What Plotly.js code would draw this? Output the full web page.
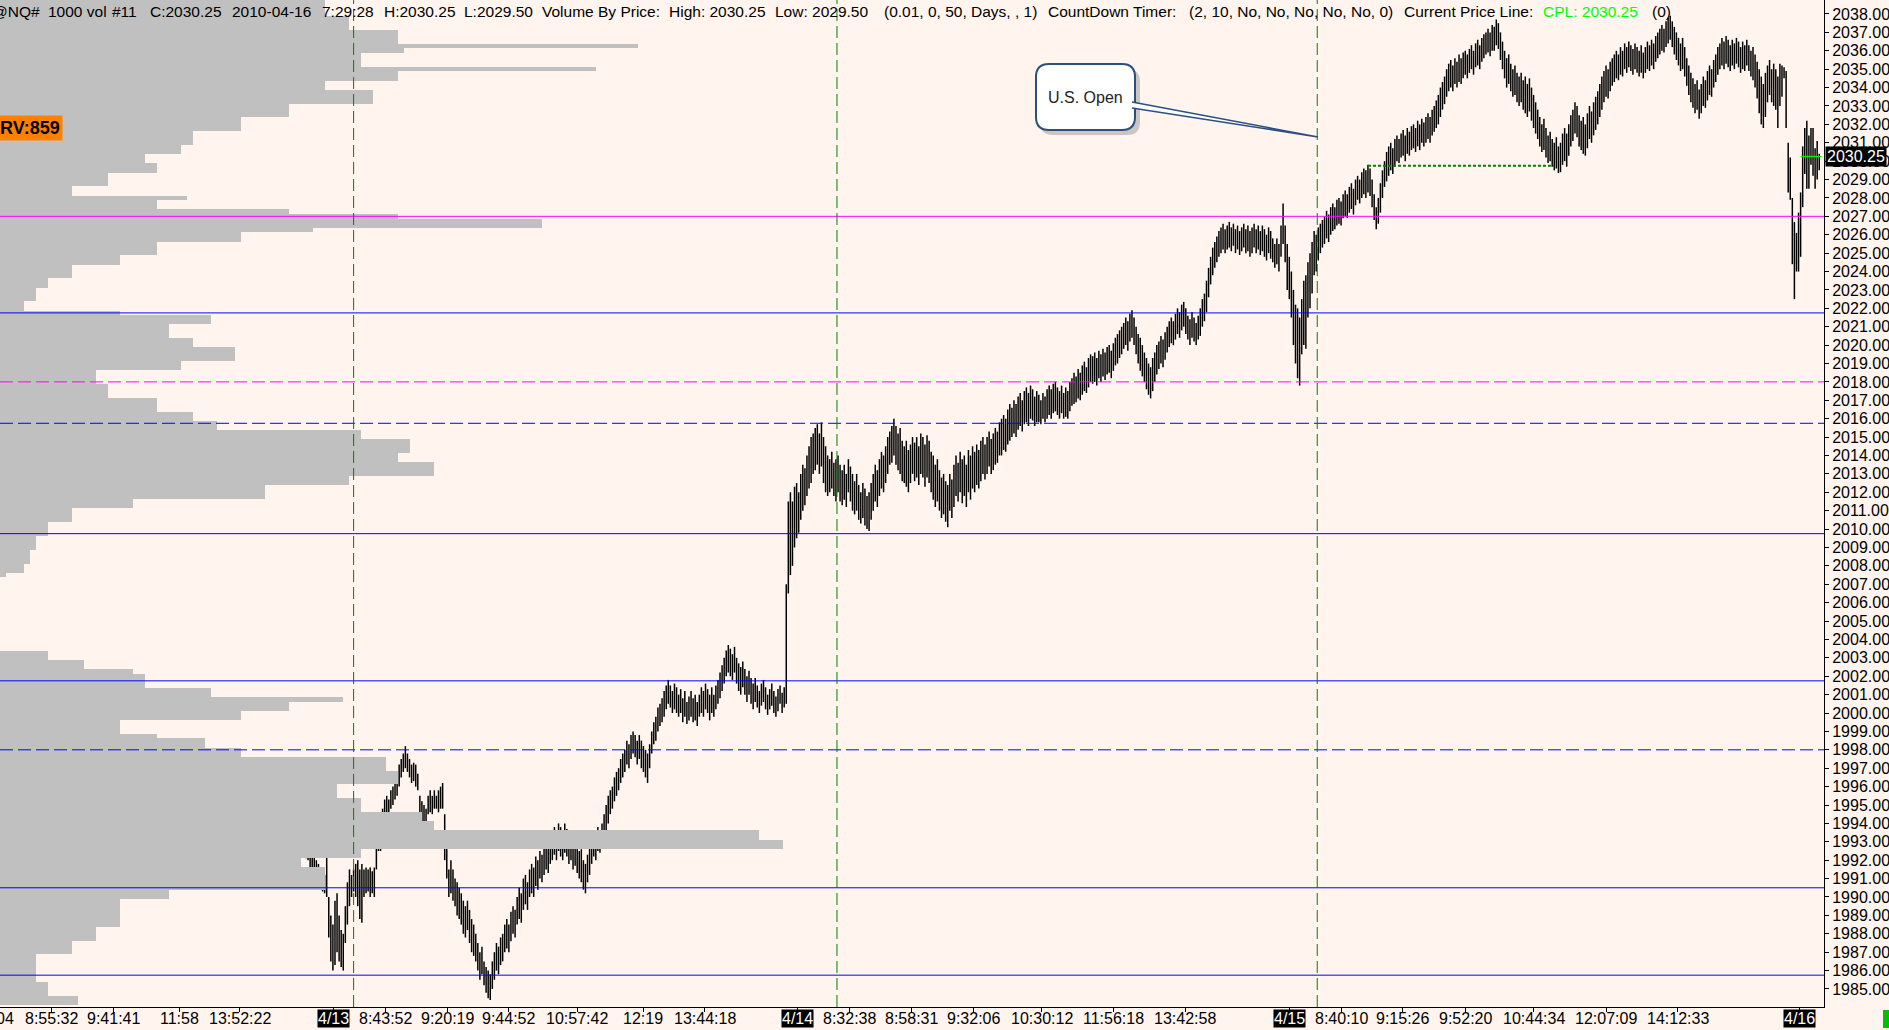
<!DOCTYPE html>
<html><head><meta charset="utf-8">
<script src="https://cdn.plot.ly/plotly-3.0.1.min.js"></script>
<style>
html,body{margin:0;padding:0;background:#fff5ee;overflow:hidden;}
#chart{width:1889px;height:1030px;}
</style></head><body><div id="chart"></div>
<script>
// ---- price bars (1000-volume bars): high and low of each bar ----
const barHigh = [
1992.5,1993.5,1993.8,1995.3,1995.0,1994.8,1994.5,1995.5,1996.2,1996.5,
1996.8,1997.2,1997.5,1997.5,1997.0,1996.2,1995.5,1995.3,1995.3,1995.0,
1994.0,1993.2,1992.2,1992.0,1991.5,1991.0,1990.5,1989.8,1989.6,1989.5,
1989.0,1989.5,1990.5,1991.0,1992.5,1993.5,1993.5,1993.5,1994.5,1993.8,
1993.2,1992.5,1991.8,1991.5,1992.5,1992.8,1993.5,1994.2,1993.8,1993.3,
1992.8,1992.0,1991.5,1993.0,1993.6,1994.3,1995.0,1995.0,1995.0,1994.8,
1995.2,1995.3,1994.3,1994.0,1993.3,1992.6,1992.0,1992.3,1992.5,1993.0,
1993.5,1993.8,1993.5,1993.3,1993.6,1993.2,1993.8,1993.9,1993.5,1993.4,
1993.8,1993.7,1993.6,1993.8,1994.0,1995.2,1995.5,1996.0,1996.5,1996.8,
1997.0,1997.2,1997.5,1997.8,1997.6,1997.9,1998.0,1997.8,1998.1,1998.0,
1997.5,1996.0,1996.0,1996.0,1996.0,1996.0,1995.8,1996.0,1996.3,1996.5,
1996.0,1996.3,1996.0,1996.8,1997.0,1997.2,1997.5,1997.3,1997.2,1997.0,
1997.0,1996.8,1996.5,1995.8,1995.5,1994.2,1993.7,1993.8,1993.8,1993.6,
1993.8,1993.6,1993.8,1993.2,1992.8,1992.5,1992.2,1991.8,1993.2,1993.6,
1993.8,1993.6,1993.2,1993.0,1992.8,1993.0,1992.8,1992.7,1992.9,1992.5,
1992.3,1992.2,1992.0,1991.8,1991.3,1991.5,1991.2,1992.6,1990.0,1989.0,
1988.5,1989.8,1990.2,1989.0,1988.2,1988.0,1989.5,1990.8,1991.5,1991.2,
1991.5,1991.8,1992.0,1991.5,1991.8,1991.5,1991.6,1991.5,1991.6,1991.4,
1991.6,1993.0,1993.5,1994.0,1994.8,1995.3,1995.5,1995.3,1995.8,1996.0,
1996.5,1996.8,1997.2,1997.5,1997.8,1998.2,1997.8,1997.5,1997.2,1997.3,
1997.2,1996.7,1995.5,1995.2,1995.0,1994.8,1995.5,1995.8,1995.5,1995.8,
1995.5,1995.8,1996.0,1996.2,1994.5,1993.0,1991.5,
1992.0,1991.5,1991.0,1990.8,1990.5,1990.2,1989.8,1989.5,1989.8,1989.3,
1988.8,1988.5,1988.0,1987.5,1987.0,1987.3,1986.5,1986.2,1986.0,1985.8,
1986.5,1987.0,1987.5,1987.3,1987.8,1988.0,1988.5,1988.8,1988.5,1989.2,
1989.5,1989.3,1990.0,1990.5,1990.2,1991.0,1991.2,1990.8,1991.5,1991.8,
1991.6,1992.2,1992.0,1992.5,1992.3,1992.8,1993.0,1992.8,1993.3,1993.6,
1993.8,1993.5,1994.0,1993.8,1993.5,1994.0,1993.7,1993.2,1993.4,1993.0,
1993.2,1992.8,1992.5,1992.6,1992.0,1991.8,1992.3,1992.8,1993.2,1993.5,
1993.4,1993.8,1993.6,1994.0,1994.5,1995.0,1995.5,1995.8,1996.0,1996.5,
1996.8,1997.0,1997.5,1997.8,1998.0,1998.5,1998.3,1998.8,1999.0,1998.8,
1998.5,1998.8,1998.5,1998.2,1998.0,1997.8,1998.3,1999.0,1999.5,1999.8,
2000.3,2000.5,2000.8,2001.2,2001.5,2001.8,2001.5,2001.2,2001.6,2001.4,
2001.0,2001.3,2000.8,2001.2,2000.6,2000.9,2001.2,2000.8,2001.0,2000.6,
2001.0,2001.4,2001.2,2001.6,2001.3,2001.0,2001.4,2001.0,2001.5,2001.8,
2002.2,2002.6,2003.0,2003.4,2003.7,2003.5,2003.2,2003.6,2003.0,2002.7,
2002.5,2002.8,2002.4,2002.0,2002.3,2001.9,2001.6,2001.9,2001.5,2001.2,
2001.6,2001.8,2001.4,2001.0,2001.3,2001.6,2001.2,2000.9,2001.3,2001.5,
2001.1,2001.4,2007.0,2011.5,2012.0,2011.5,2012.3,2012.5,2012.0,2013.0,
2013.5,2013.3,2014.0,2014.5,2015.0,2015.2,2015.5,2015.7,2015.2,2015.8,
2015.0,2014.5,2014.0,2013.8,2014.2,2013.6,2013.8,2014.0,2013.5,2013.2,
2013.5,2013.0,2013.8,2013.4,2013.0,2012.6,2013.0,2012.4,2012.0,2012.5,
2012.2,2011.8,2012.0,2012.5,2013.0,2013.5,2013.2,2013.8,2014.2,2014.0,
2014.5,2015.0,2015.3,2015.6,2016.0,2015.6,2015.2,2015.5,2014.8,2014.5,
2014.8,2014.3,2014.6,2015.0,2014.7,2015.0,2014.5,2015.2,2015.0,2014.6,
2015.1,2014.8,2014.2,2014.0,2013.5,2013.8,2013.2,2012.8,2013.0,2012.6,
2012.4,2013.0,2012.7,2013.5,2014.0,2013.6,2014.2,2013.8,2014.0,2013.5,
2014.3,2014.0,2014.5,2014.2,2014.6,2014.3,2014.8,2015.0,2014.6,2015.0,
2015.3,2014.9,2015.2,2015.5,2015.3,2015.8,2016.0,2016.2,2016.0,2016.5,
2016.8,2016.6,2017.0,2016.8,2017.2,2017.4,2017.0,2017.5,2017.7,2017.4,
2017.8,2017.6,2017.2,2017.5,2017.3,2017.0,2017.4,2017.2,2017.6,2017.8,
2017.6,2017.9,2018.0,2017.7,2017.5,2017.8,2017.4,2017.7,2017.5,2018.0,
2018.2,2018.5,2018.3,2018.7,2018.5,2018.9,2019.1,2018.8,2019.3,2019.5,
2019.4,2019.6,2019.3,2019.7,2019.5,2019.8,2019.6,2019.9,2020.0,2019.7,
2020.1,2020.4,2020.6,2020.8,2021.0,2021.2,2021.5,2021.3,2021.7,2021.9,
2021.5,2021.0,2020.6,2020.4,2020.0,2019.6,2019.3,2019.0,2018.8,2019.3,
2019.6,2020.0,2020.2,2020.5,2020.3,2020.7,2021.0,2021.3,2021.5,2021.3,
2021.7,2022.0,2021.8,2022.2,2022.35,2022.0,2021.6,2021.4,2021.8,2021.5,
2021.2,2021.6,2022.0,2022.5,2022.8,2023.5,2024.2,2024.8,2025.3,2025.6,
2025.9,2026.2,2026.4,2026.6,2026.3,2026.5,2026.7,2026.4,2026.6,2026.3,
2026.5,2026.2,2026.4,2026.6,2026.3,2026.5,2026.2,2026.4,2026.6,2026.3,
2026.5,2026.2,2026.5,2026.3,2026.0,2026.4,2026.2,2025.8,2025.5,2025.8,
2025.5,2026.5,2027.7,2026.5,2025.5,2024.8,2024.0,2023.0,2022.2,2022.0,
2021.5,2022.5,2023.5,2023.8,2024.5,2025.0,2025.6,2026.2,2026.0,2026.4,
2026.6,2026.8,2027.0,2027.3,2027.1,2027.5,2027.7,2027.5,2027.9,2028.0,
2027.8,2028.2,2028.4,2028.2,2028.6,2028.8,2028.5,2029.0,2029.2,2029.0,
2029.4,2029.6,2029.5,2029.8,2029.6,2029.0,2028.2,2027.5,2028.0,2028.8,
2029.5,2030.0,2030.5,2030.8,2031.0,2030.7,2031.2,2031.4,2031.2,2031.5,
2031.7,2031.4,2031.8,2031.6,2031.9,2032.0,2031.8,2032.2,2032.0,2032.3,
2032.1,2032.4,2032.6,2032.4,2032.8,2033.0,2033.3,2033.6,2034.0,2034.3,
2034.6,2035.0,2035.3,2035.5,2035.2,2035.6,2035.4,2035.8,2035.6,2035.9,
2036.0,2035.8,2036.1,2036.3,2036.0,2036.4,2036.6,2036.3,2036.7,2036.9,
2037.0,2037.2,2037.0,2037.4,2037.3,2037.7,2037.5,2037.0,2036.5,2036.0,
2035.6,2035.8,2035.3,2035.0,2035.2,2034.8,2034.6,2034.8,2034.4,2034.6,
2034.2,2034.5,2034.0,2033.6,2033.2,2032.8,2032.4,2032.0,2032.3,2031.8,
2031.4,2031.6,2031.2,2031.0,2031.3,2030.8,2031.0,2031.5,2031.8,2031.5,
2032.0,2032.5,2032.8,2033.2,2033.0,2032.5,2032.2,2032.4,2032.0,2032.6,
2033.0,2032.7,2033.2,2033.5,2033.8,2034.2,2034.6,2034.9,2035.2,2035.0,
2035.4,2035.6,2035.8,2036.0,2035.8,2036.2,2036.0,2036.4,2036.2,2036.5,
2036.3,2036.1,2036.4,2036.2,2036.0,2036.3,2035.9,2036.2,2036.5,2036.3,
2036.6,2036.4,2036.8,2037.0,2037.2,2037.4,2037.2,2037.6,2037.8,2037.9,
2037.6,2037.3,2037.0,2036.7,2036.4,2036.7,2036.2,2035.6,2035.2,2034.8,
2034.5,2034.2,2034.4,2033.9,2034.2,2034.6,2034.4,2034.9,2035.2,2035.0,
2035.5,2035.8,2036.2,2036.4,2036.7,2036.5,2036.8,2036.6,2036.3,2036.6,
2036.4,2036.7,2036.5,2036.2,2036.5,2036.3,2036.6,2036.3,2036.0,2036.2,
2035.8,2035.4,2035.0,2034.6,2034.2,2034.8,2035.2,2035.5,2035.0,2035.3,
2035.0,2034.6,2035.3,2035.2,2035.1,2034.9,2031.0,2030.2,2028.0,2026.7,
2026.1,2027.2,2028.3,2030.8,2031.8,2032.2,2031.4,2031.8,2031.8,2030.7,
2031.1,2030.4
];
const barLow = [
1990.5,1991.5,1992.0,1993.5,1993.8,1993.3,1993.0,1994.0,1994.5,1995.0,
1995.5,1995.8,1996.0,1996.2,1995.8,1995.5,1994.8,1994.5,1994.3,1994.0,
1993.0,1991.5,1991.2,1990.8,1990.6,1990.2,1989.8,1988.8,1988.5,1988.3,
1987.8,1988.5,1989.5,1989.8,1991.3,1992.0,1991.8,1992.0,1992.6,1992.2,
1991.5,1991.0,1989.75,1990.6,1991.0,1990.6,1991.8,1992.5,1992.0,1991.5,
1991.2,1990.7,1990.2,1991.5,1992.2,1993.0,1993.5,1993.8,1993.6,1993.5,
1994.0,1994.2,1993.2,1992.8,1991.7,1991.0,1990.9,1991.3,1991.0,1991.5,
1992.0,1992.4,1992.2,1991.8,1992.2,1992.0,1992.5,1992.5,1992.0,1992.2,
1992.8,1992.5,1992.6,1992.8,1992.8,1993.6,1994.2,1994.5,1995.5,1995.3,
1995.8,1996.0,1996.2,1996.5,1996.5,1996.8,1997.0,1996.8,1997.0,1996.5,
1996.2,1995.0,1994.8,1994.4,1994.6,1994.4,1994.5,1994.6,1995.0,1995.3,
1994.8,1995.5,1994.8,1995.5,1995.8,1996.0,1996.0,1995.5,1995.8,1995.5,
1995.3,1995.0,1994.8,1994.5,1994.4,1993.2,1992.6,1992.5,1992.4,1992.4,
1992.6,1992.6,1992.5,1992.0,1991.8,1991.5,1991.0,1991.0,1992.0,1992.2,
1992.5,1992.5,1992.2,1992.2,1992.2,1992.2,1992.2,1992.1,1992.0,1991.5,
1991.5,1991.2,1990.8,1990.8,1990.6,1990.3,1990.2,1990.0,1987.8,1986.5,
1986.0,1986.3,1987.0,1986.5,1986.2,1986.0,1987.5,1988.5,1989.5,1990.0,
1990.3,1990.0,1989.5,1988.8,1988.6,1990.0,1990.2,1990.3,1990.0,1990.2,
1990.0,1991.5,1992.5,1992.5,1993.5,1994.2,1994.3,1994.5,1994.8,1995.0,
1995.3,1995.5,1996.0,1996.5,1996.8,1997.0,1996.8,1996.5,1996.2,1996.3,
1996.0,1995.8,1994.5,1994.0,1993.5,1993.0,1994.5,1994.6,1994.5,1994.8,
1994.8,1994.6,1994.8,1994.8,1992.0,1991.0,1990.0,
1990.2,1989.8,1989.5,1989.0,1988.8,1988.5,1988.0,1987.8,1988.2,1987.5,
1987.0,1986.8,1986.5,1986.0,1985.5,1985.8,1985.2,1984.8,1984.5,1984.4,
1985.0,1985.5,1986.0,1985.8,1986.3,1986.5,1987.0,1987.2,1987.0,1987.6,
1988.0,1987.8,1988.5,1988.8,1988.6,1989.3,1989.6,1989.3,1990.0,1990.2,
1990.0,1990.6,1990.4,1991.0,1990.8,1991.2,1991.5,1991.3,1991.8,1992.0,
1992.3,1992.0,1992.5,1992.2,1992.0,1992.4,1992.2,1991.8,1992.0,1991.5,
1991.7,1991.3,1991.0,1990.8,1990.4,1990.2,1990.8,1991.2,1991.8,1992.2,
1992.0,1992.5,1992.4,1992.8,1993.0,1993.5,1994.0,1994.5,1994.8,1995.2,
1995.5,1995.8,1996.2,1996.5,1996.8,1997.2,1997.0,1997.5,1997.8,1997.6,
1997.2,1997.5,1997.0,1996.8,1996.5,1996.2,1997.0,1997.8,1998.3,1998.5,
1999.0,1999.3,1999.5,1999.8,2000.2,2000.5,2000.3,2000.0,2000.2,2000.0,
1999.8,2000.0,1999.5,1999.8,1999.4,1999.6,1999.8,1999.5,1999.6,1999.3,
1999.8,2000.0,1999.8,2000.2,2000.0,1999.6,2000.0,1999.8,2000.2,2000.5,
2000.8,2001.2,2001.6,2002.0,2002.2,2002.0,2001.8,2002.2,2001.6,2001.2,
2001.0,2001.4,2001.0,2000.6,2001.0,2000.5,2000.2,2000.6,2000.3,2000.0,
2000.4,2000.6,2000.2,1999.9,2000.2,2000.4,2000.0,1999.8,2000.1,2000.5,
2000.0,2000.3,2000.5,2006.5,2007.5,2008.0,2009.0,2009.5,2009.8,2010.5,
2011.0,2011.3,2011.8,2012.2,2012.5,2013.0,2013.2,2013.5,2013.0,2013.4,
2012.5,2012.0,2011.8,2012.0,2012.2,2011.8,2011.5,2012.0,2011.5,2011.3,
2011.6,2011.2,2012.0,2011.5,2011.0,2010.8,2011.0,2010.5,2010.3,2010.6,
2010.2,2010.0,2009.9,2010.5,2011.0,2011.5,2011.2,2011.8,2012.2,2012.0,
2012.5,2013.0,2013.5,2013.6,2014.0,2013.5,2013.2,2013.0,2012.6,2012.5,
2012.3,2012.0,2012.5,2013.0,2012.6,2012.8,2012.4,2013.0,2012.8,2012.3,
2012.8,2012.5,2012.0,2011.6,2011.2,2011.5,2011.0,2010.6,2010.8,2010.4,
2010.1,2011.0,2010.6,2011.2,2011.8,2011.5,2012.0,2011.4,2011.8,2011.2,
2012.0,2011.6,2012.2,2012.0,2012.4,2012.2,2012.6,2013.0,2012.7,2013.0,
2013.4,2013.0,2013.2,2013.5,2013.6,2014.0,2014.0,2014.3,2014.2,2014.6,
2014.8,2015.0,2015.2,2015.0,2015.4,2015.6,2015.3,2015.7,2015.8,2015.6,
2016.0,2015.9,2015.6,2015.8,2015.8,2015.7,2016.0,2015.8,2016.0,2016.2,
2016.0,2016.3,2016.4,2016.2,2016.0,2016.3,2016.0,2016.1,2016.0,2016.4,
2016.7,2016.8,2016.9,2017.1,2017.0,2017.3,2017.5,2017.4,2017.7,2018.0,
2017.9,2018.0,2017.8,2018.2,2018.0,2018.3,2018.1,2018.4,2018.5,2018.2,
2018.6,2018.9,2019.0,2019.3,2019.5,2019.8,2020.0,2019.7,2020.2,2020.4,
2020.0,2019.5,2019.0,2018.6,2018.3,2018.0,2017.6,2017.3,2017.1,2017.5,
2018.0,2018.4,2018.7,2019.0,2018.8,2019.2,2019.6,2019.9,2020.1,2020.0,
2020.3,2020.6,2020.4,2020.8,2021.0,2020.6,2020.3,2020.0,2020.4,2020.2,
2020.0,2020.3,2020.5,2021.0,2021.3,2021.8,2022.6,2023.3,2023.8,2024.2,
2024.5,2024.8,2025.0,2025.2,2025.0,2025.2,2025.3,2025.1,2025.4,2025.0,
2025.2,2024.9,2025.1,2025.3,2025.0,2025.1,2024.8,2025.0,2025.3,2025.0,
2025.2,2024.9,2025.1,2024.8,2024.6,2025.0,2024.7,2024.5,2024.2,2024.4,
2024.0,2024.8,2025.5,2024.5,2023.0,2022.5,2021.5,2020.0,2019.0,2018.2,
2017.8,2019.5,2020.0,2019.8,2021.5,2022.0,2022.8,2023.8,2024.0,2024.6,
2025.0,2025.3,2025.5,2025.8,2025.6,2026.0,2026.2,2026.3,2026.5,2026.6,
2026.5,2026.9,2027.0,2026.9,2027.2,2027.4,2027.1,2027.6,2027.9,2027.7,
2028.0,2028.2,2028.0,2028.3,2028.1,2027.5,2026.8,2026.3,2026.6,2027.2,
2028.0,2028.6,2028.9,2029.2,2029.5,2029.3,2029.7,2030.0,2029.9,2030.2,
2030.3,2030.0,2030.4,2030.3,2030.6,2030.7,2030.5,2030.8,2030.6,2031.0,
2030.8,2031.0,2031.2,2031.0,2031.4,2031.6,2031.8,2032.0,2032.4,2032.8,
2033.1,2033.5,2033.8,2034.0,2033.8,2034.2,2034.0,2034.3,2034.2,2034.5,
2034.7,2034.5,2034.8,2035.0,2034.7,2035.1,2035.2,2035.0,2035.4,2035.6,
2035.8,2035.9,2035.7,2036.0,2036.0,2036.3,2036.1,2035.5,2035.0,2034.5,
2034.0,2034.2,2033.8,2033.5,2033.6,2033.2,2033.0,2033.2,2032.8,2032.6,
2032.4,2032.7,2032.2,2031.8,2031.5,2031.2,2030.8,2030.5,2030.6,2030.2,
2029.9,2030.0,2029.7,2029.5,2029.6,2029.35,2029.4,2029.8,2030.0,2029.7,
2030.3,2030.8,2031.1,2031.5,2031.3,2030.8,2030.6,2030.4,2030.3,2030.7,
2031.2,2031.0,2031.4,2031.7,2032.0,2032.4,2032.8,2033.2,2033.5,2033.4,
2033.8,2034.1,2034.3,2034.5,2034.4,2034.7,2034.6,2035.0,2034.8,2035.1,
2034.9,2034.7,2035.0,2034.8,2034.6,2034.8,2034.5,2034.8,2035.0,2034.9,
2035.2,2035.0,2035.4,2035.6,2035.8,2036.0,2035.9,2036.2,2036.4,2036.6,
2036.2,2035.8,2035.5,2035.2,2034.9,2035.0,2034.6,2034.1,2033.6,2033.2,
2032.9,2032.6,2032.8,2032.3,2032.6,2033.0,2032.9,2033.3,2033.6,2033.5,
2034.0,2034.3,2034.7,2035.0,2035.2,2035.0,2035.3,2035.1,2034.9,2035.2,
2035.0,2035.3,2035.1,2034.8,2035.0,2034.9,2035.2,2034.9,2034.6,2034.4,
2034.0,2033.4,2032.6,2032.0,2031.8,2032.4,2033.2,2033.6,2033.2,2033.0,
2032.8,2031.8,2033.0,2033.5,2034.5,2031.8,2028.3,2027.9,2024.4,2022.5,
2024.0,2024.0,2024.8,2027.5,2029.3,2028.5,2028.5,2029.8,2029.2,2028.5,
2029.0,2029.5
];

// ---- volume-by-price profile: volume per 0.25 price level, from the top level down ----
const profileTopPrice = 2038.75;
const profileTick = 0.25;
const profileVolume = [
325,325,325,325,349,349,349,398,398,398,
638,404,361,361,361,596,398,398,325,325,
373,373,373,289,289,289,241,241,241,193,
193,193,181,181,145,145,157,157,108,108,
108,72,72,187,157,157,289,398,542,542,
313,241,241,157,157,157,120,120,72,72,
72,48,48,36,36,36,24,24,120,211,
211,169,169,169,193,193,235,235,235,181,
181,96,96,96,108,108,108,157,157,157,
193,193,217,217,361,361,410,410,410,398,
398,434,434,434,349,349,265,265,265,133,
133,72,72,72,48,48,48,36,36,36,
30,30,30,24,24,6,0,0,0,0,
0,0,0,0,0,0,0,0,0,0,
0,0,48,48,84,84,133,145,145,145,
211,211,343,289,289,241,241,120,120,120,
157,205,205,241,241,386,386,386,398,398,
398,337,337,337,361,361,361,422,422,434,
434,759,759,783,783,361,361,301,301,325,
325,325,325,325,169,169,120,120,120,120,
120,120,96,96,96,72,72,72,36,36,
36,36,36,36,48,48,48,78,78
];

// ---- reference levels and markers ----
const solidBlueLevels = [2021.75, 2009.75, 2001.75, 1990.5, 1985.75];
const dashedBlueLevels = [2015.75, 1998.0];
const magentaSolidLevels = [2027.0];
const magentaDashedLevels = [2018.0];
const usOpenBars = [170, 403.5, 635.5];
const timeTickBars = [24, 54.2, 86.1, 115, 185.3, 215.3, 245, 278, 310, 339.6,
                      409.6, 439.4, 469.3, 502.3, 537, 571.8, 647.3, 676.6, 707.3, 740, 775, 809.7];
const timeTickLabels = ['8:55:32','9:41:41','11:58','13:52:22','8:43:52','9:20:19','9:44:52','10:57:42','12:19','13:44:18',
                        '8:32:38','8:58:31','9:32:06','10:30:12','11:56:18','13:42:58','8:40:10','9:15:26','9:52:20','10:44:34','12:07:09','14:12:33'];
const dateTickBars = [160.5, 384.3, 622, 868.4];
const dateTickLabels = ['4/13','4/14','4/15','4/16'];
const lastPrice = 2030.25;
const cplStartBar = 869, cplEndBar = 879;
const greenLevel = 2029.75, greenStartBar = 660, greenEndBar = 750;
const rvText = 'RV:859', rvPrice = 2031.8;

// ---- build traces ----
const segX = [], segY = [];
const n = Math.min(barHigh.length, barLow.length);
for (let i = 0; i < n; i++) { segX.push(i, i, null); segY.push(barLow[i], barHigh[i], null); }
const profilePrice = profileVolume.map((v, k) => profileTopPrice - k * profileTick);

const F = 'Liberation Sans, Arial, sans-serif';
const PW = 1824, PH = 1007;
function P(px, py) { return (px / PW).toFixed(5) + ',' + (1 - py / PH).toFixed(5); }
function roundRect(x0, y0, x1, y1, r) {
  return 'M' + P(x0 + r, y0) + ' L' + P(x1 - r, y0) + ' Q' + P(x1, y0) + ' ' + P(x1, y0 + r) +
    ' L' + P(x1, y1 - r) + ' Q' + P(x1, y1) + ' ' + P(x1 - r, y1) +
    ' L' + P(x0 + r, y1) + ' Q' + P(x0, y1) + ' ' + P(x0, y1 - r) +
    ' L' + P(x0, y0 + r) + ' Q' + P(x0, y0) + ' ' + P(x0 + r, y0) + ' Z';
}

const traces = [
  { type: 'bar', orientation: 'h', x: profileVolume, y: profilePrice, base: 0, width: profileTick,
    xaxis: 'x2', yaxis: 'y', marker: { color: '#c0c0c0', line: { width: 0 } }, hoverinfo: 'skip', showlegend: false },
  { type: 'scatter', mode: 'lines', x: segX, y: segY, connectgaps: false,
    line: { color: '#000000', width: 1.5 }, hoverinfo: 'skip', showlegend: false }
];

const shapes = [];
function hline(y, color, dash) {
  shapes.push({ type: 'line', xref: 'paper', x0: 0, x1: 1, yref: 'y', y0: y, y1: y,
    line: { color: color, width: 1, dash: dash || 'solid' } });
}
solidBlueLevels.forEach(v => hline(v, '#0000ff'));
dashedBlueLevels.forEach(v => hline(v, '#0000ff', '13px,5px'));
magentaSolidLevels.forEach(v => hline(v, '#ff00ff'));
magentaDashedLevels.forEach(v => hline(v, '#ff00ff', '13px,5px'));
usOpenBars.forEach(b => shapes.push({ type: 'line', xref: 'x', x0: b, x1: b, yref: 'paper', y0: 0, y1: 1,
  line: { color: '#008000', width: 1, dash: '12px,5px' } }));
shapes.push({ type: 'line', xref: 'x', x0: greenStartBar, x1: greenEndBar, yref: 'y', y0: greenLevel, y1: greenLevel,
  line: { color: '#008000', width: 2, dash: '3px,2px' } });
shapes.push({ type: 'line', xref: 'x', x0: cplStartBar, x1: cplEndBar, yref: 'y', y0: lastPrice, y1: lastPrice,
  line: { color: '#00ee00', width: 1.5 } });
// callout box "U.S. Open"
shapes.push({ type: 'path', xref: 'paper', yref: 'paper', path: roundRect(1040, 69, 1140, 135, 13),
  fillcolor: 'rgba(110,110,110,0.35)', line: { width: 0 } });
shapes.push({ type: 'path', xref: 'paper', yref: 'paper', path: roundRect(1036, 64, 1135, 130, 13),
  fillcolor: '#ffffff', line: { color: '#2b4f81', width: 2 } });
shapes.push({ type: 'path', xref: 'paper', yref: 'paper',
  path: 'M' + P(1132, 102) + ' L' + P(1318, 137) + ' L' + P(1132, 108),
  fillcolor: '#ffffff', line: { color: '#2b4f81', width: 1.5 } });
// small green status block bottom-right
shapes.push({ type: 'rect', xref: 'paper', yref: 'paper', x0: 1883 / PW, x1: 1889 / PW,
  y0: 1 - 1028 / PH, y1: 1 - 1010 / PH, fillcolor: '#00c000', line: { width: 0 } });

const annotations = [];
const header = [
  ['@NQ#', -7.6], ['1000 vol', 47.8], ['#11', 111.6], ['C:2030.25', 149.5], ['2010-04-16', 231.5],
  ['7:29:28', 321.5], ['H:2030.25', 384], ['L:2029.50', 464], ['Volume By Price:', 541.5],
  ['High: 2030.25', 669], ['Low: 2029.50', 774.5], ['(0.01, 0, 50, Days, , 1)', 884],
  ['CountDown Timer:', 1048], ['(2, 10, No, No, No, No, No, 0)', 1189], ['Current Price Line:', 1404],
  ['CPL: 2030.25', 1542.5, '#00ff00'], ['(0)', 1651.5]
];
header.forEach(h => annotations.push({ xref: 'paper', yref: 'paper', x: h[1] / PW, y: 1 - 11 / PH,
  xanchor: 'left', yanchor: 'middle', xshift: -2, text: h[0], showarrow: false,
  font: { family: F, size: 15.5, color: h[2] || '#000000' } }));
annotations.push({ xref: 'paper', yref: 'paper', x: 1085.5 / PW, y: 1 - 97 / PH, xanchor: 'center', yanchor: 'middle',
  text: 'U.S. Open', showarrow: false, font: { family: F, size: 16, color: '#222222' } });
annotations.push({ xref: 'paper', yref: 'y', x: 63 / PW, y: rvPrice, xanchor: 'right', yanchor: 'middle',
  text: '<b>' + rvText + '</b>', showarrow: false, bgcolor: '#ff8000', borderpad: 2,
  font: { family: F, size: 18, color: '#000000' } });
annotations.push({ xref: 'paper', yref: 'y', x: 1, xshift: 1, y: lastPrice, xanchor: 'left', yanchor: 'middle',
  text: lastPrice.toFixed(2), showarrow: false, bgcolor: '#000000', borderpad: 1,
  font: { family: F, size: 16, color: '#ffffff' } });
// time-axis labels (drawn as text boxes so they sit in the thin strip under the axis)
timeTickBars.forEach((b, i) => annotations.push({ xref: 'x', yref: 'paper', x: b, y: 0, xanchor: 'center',
  yanchor: 'middle', yshift: -11, text: timeTickLabels[i], showarrow: false,
  font: { family: F, size: 16, color: '#000000' } }));
dateTickBars.forEach((b, i) => annotations.push({ xref: 'x', yref: 'paper', x: b, y: 0, xanchor: 'center',
  yanchor: 'middle', yshift: -11, text: dateTickLabels[i], showarrow: false, bgcolor: '#000000', borderpad: 0,
  font: { family: F, size: 16, color: '#ffffff' } }));
annotations.push({ xref: 'paper', yref: 'paper', x: 15.6 / PW, y: 0, xanchor: 'right', yanchor: 'middle', yshift: -11,
  text: '04', showarrow: false, font: { family: F, size: 16, color: '#000000' } });

const layout = {
  width: 1889, height: 1030,
  margin: { l: 0, r: 65, t: 0, b: 23, pad: 0 },
  paper_bgcolor: '#fff5ee', plot_bgcolor: '#fff5ee',
  showlegend: false, barmode: 'overlay', bargap: 0,
  font: { family: F, size: 16, color: '#000' },
  xaxis: { range: [-0.82, 880.3], tickmode: 'array',
    tickvals: timeTickBars.concat(dateTickBars), showticklabels: false,
    ticks: 'outside', ticklen: 4, tickcolor: '#000', showline: true, linecolor: '#000', linewidth: 1,
    showgrid: false, zeroline: false, fixedrange: true },
  xaxis2: { overlaying: 'x', range: [0, PW], visible: false, fixedrange: true },
  yaxis: { side: 'right', range: [1984.02, 2038.76], tickmode: 'linear', tick0: 1985, dtick: 1,
    tickformat: '.2f', ticks: 'outside', ticklen: 4, tickcolor: '#000', showline: true, linecolor: '#000',
    linewidth: 1, showgrid: false, zeroline: false, tickfont: { family: F, size: 16, color: '#000' },
    fixedrange: true },
  shapes: shapes, annotations: annotations
};
Plotly.newPlot('chart', traces, layout, { displayModeBar: false, staticPlot: true });
</script></body></html>
